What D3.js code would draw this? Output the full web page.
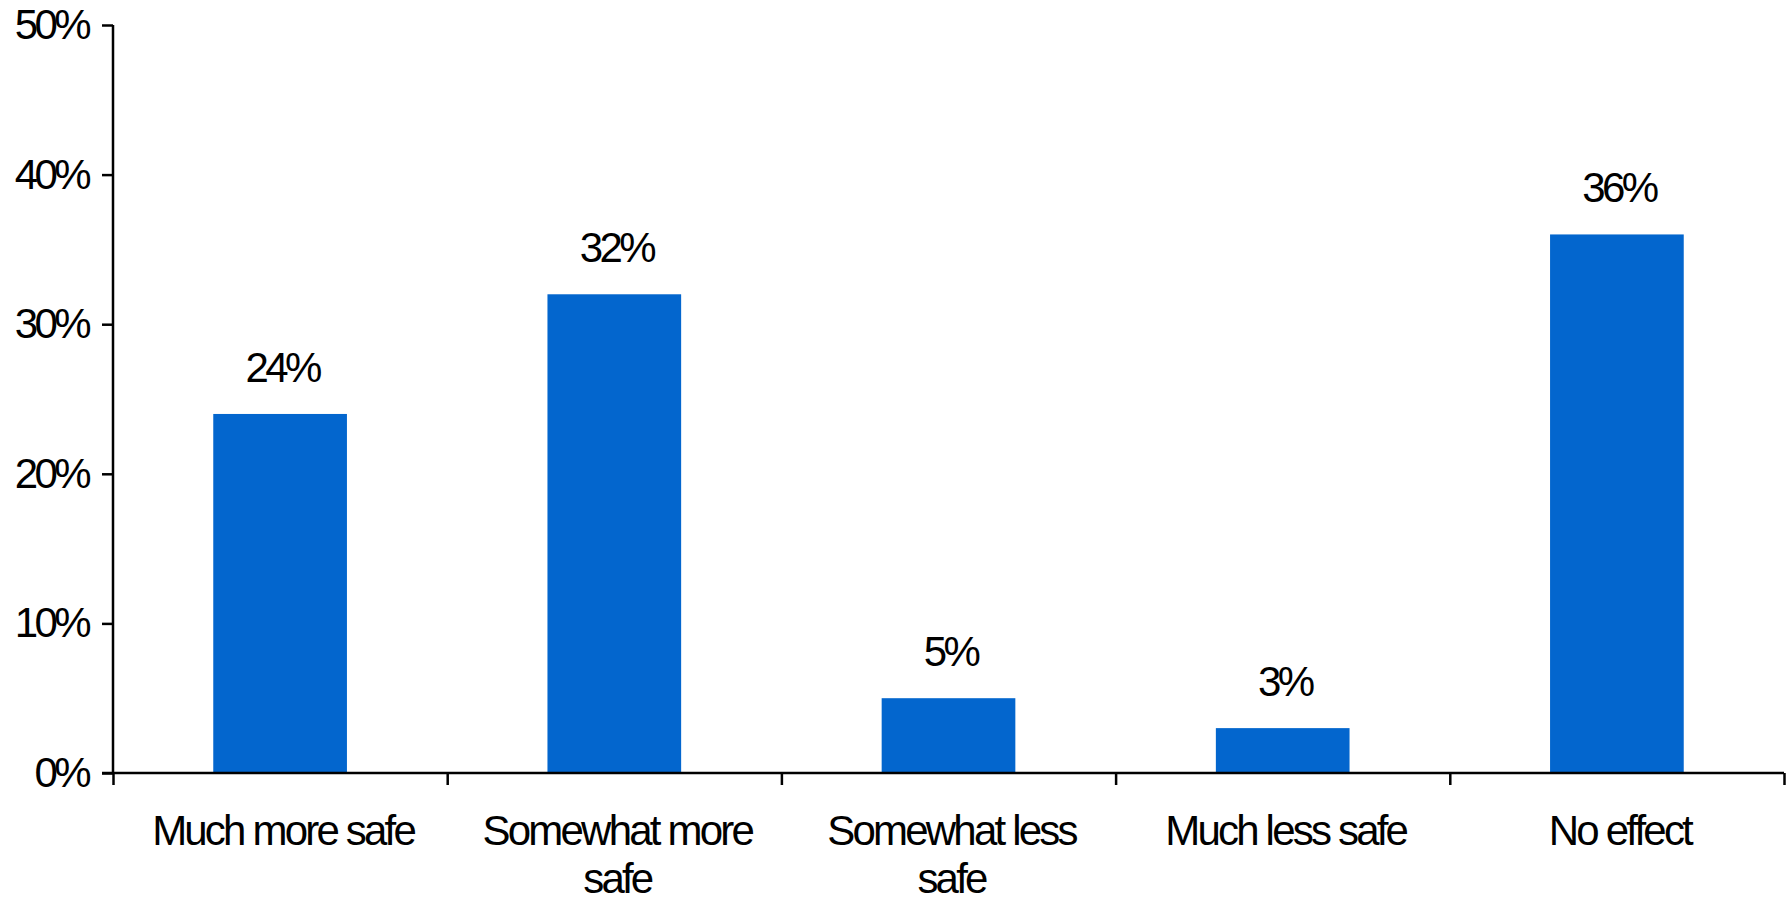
<!DOCTYPE html>
<html>
<head>
<meta charset="utf-8">
<script src="https://cdn.jsdelivr.net/npm/d3@7"></script>
<style>
  html, body { margin: 0; padding: 0; background: #fff; }
  svg { display: block; }
  text { font-family: "Liberation Sans", Arial, sans-serif; fill: #000; }
</style>
</head>
<body>
<svg id="chart" width="1791" height="905"></svg>
<script>
const categories = ["Much more safe", "Somewhat more safe", "Somewhat less safe", "Much less safe", "No effect"];
const values = [24, 32, 5, 3, 36];
const yTicks = [0, 10, 20, 30, 40, 50];

(function () {
const mLeft = 113, mRight = 1784, mTop = 25, mBottom = 773;
const fontSize = 42, letterSp = -2.8, pctSp = -3.6;
const barColor = "#0366CE";

const svg = d3.select("#chart");

const x = d3.scaleBand().domain(categories).range([mLeft, mRight])
  .paddingInner(0.6).paddingOuter(0.3);
const y = d3.scaleLinear().domain([0, 50]).range([mBottom, mTop]);

// bars
svg.append("g").selectAll("rect").data(values).join("rect")
  .attr("x", (d, i) => x(categories[i]))
  .attr("y", d => y(d))
  .attr("width", x.bandwidth())
  .attr("height", d => y(0) - y(d))
  .attr("fill", barColor);

// value labels
svg.append("g").selectAll("text").data(values).join("text")
  .attr("x", (d, i) => x(categories[i]) + x.bandwidth() / 2 + 2)
  .attr("y", d => y(d) - 32)
  .attr("text-anchor", "middle")
  .style("font-size", fontSize + "px")
  .style("letter-spacing", pctSp + "px")
  .text(d => d + "%");

// y axis
const yAxis = svg.append("g").attr("transform", `translate(${mLeft},0)`)
  .call(d3.axisLeft(y).tickValues(yTicks).tickSize(11).tickPadding(14).tickFormat(d => d + "%"));
yAxis.select(".domain").attr("stroke", "#000").attr("stroke-width", 2.5)
  .attr("d", `M0,${mTop}V${mBottom}`);
yAxis.selectAll(".tick line").attr("stroke", "#000").attr("stroke-width", 2.5);
yAxis.selectAll(".tick text")
  .style("font-size", fontSize + "px")
  .style("letter-spacing", pctSp + "px")
  .style("font-family", '"Liberation Sans", Arial, sans-serif')
  .attr("fill", "#000");

// x axis: domain line + boundary ticks
const step = x.step();
const boundaries = categories.map(c => x(c) - step * x.paddingInner() / 2).concat([mRight]);
const xb = d3.scaleLinear().domain([mLeft, mRight]).range([mLeft, mRight]);
const xAxis = svg.append("g").attr("transform", `translate(0,${mBottom})`)
  .call(d3.axisBottom(xb).tickValues(boundaries).tickSize(12).tickFormat(""));
xAxis.select(".domain").attr("stroke", "#000").attr("stroke-width", 2.5)
  .attr("d", `M${mLeft - 11},0H${mRight}`);
xAxis.selectAll(".tick line").attr("stroke", "#000").attr("stroke-width", 2.5);

// category labels (wrapped)
const maxW = 275;
const labels = svg.append("g");
categories.forEach(c => {
  const cx = x(c) + x.bandwidth() / 2 + 3;
  const t = labels.append("text")
    .attr("text-anchor", "middle")
    .style("font-size", fontSize + "px")
    .style("letter-spacing", letterSp + "px");
  const words = c.split(" ");
  let line = [];
  let lineNo = 0;
  let tspan = t.append("tspan").attr("x", cx).attr("y", mBottom + 72);
  words.forEach(w => {
    line.push(w);
    tspan.text(line.join(" "));
    if (tspan.node().getComputedTextLength() > maxW && line.length > 1) {
      line.pop();
      tspan.text(line.join(" "));
      line = [w];
      lineNo++;
      tspan = t.append("tspan").attr("x", cx).attr("y", mBottom + 72 + lineNo * 48).text(w);
    }
  });
});
})();
</script>
</body>
</html>
